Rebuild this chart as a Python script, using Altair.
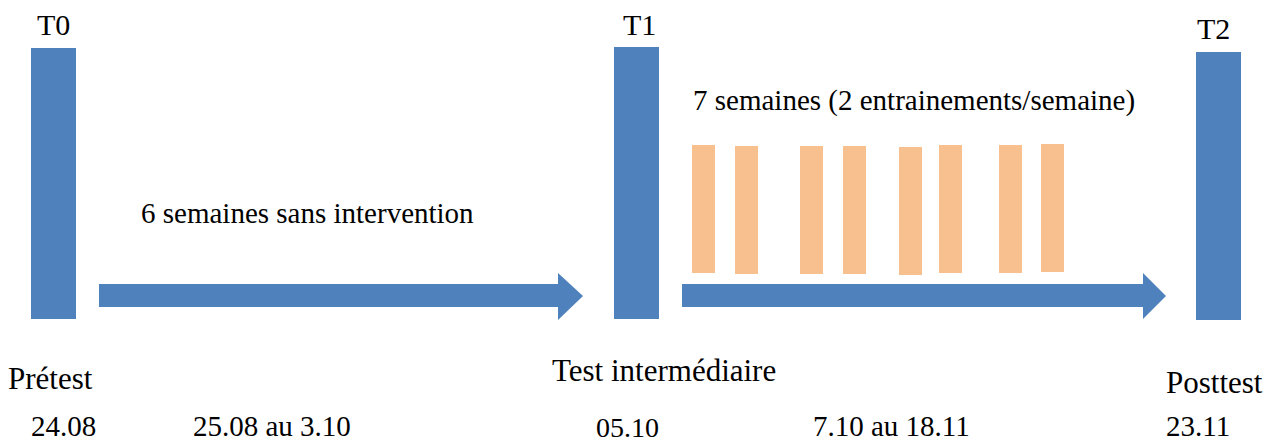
import altair as alt
import pandas as pd

# Layout of the study timeline (schematic units = page pixels)
W, H = 1263, 435
X0, Y0 = 8, 8

# Measurement points (blue bars)
test_names = ["T0", "T1", "T2"]
test_left = [31, 614, 1196]
test_right = [76, 659, 1241]
test_top = [48, 47, 52]
test_bottom = [319, 319, 320]

# Training sessions (orange bars): 7 weeks, 2 sessions/week shown as 8 bars
sess_left = [692, 735, 800, 843, 899, 939, 999, 1041]
sess_right = [715, 758, 823, 866, 922, 962, 1022, 1064]
sess_top = [145, 146, 146, 146, 147, 145, 145, 144]
sess_bottom = [273, 274, 274, 274, 275, 273, 273, 272]

# Arrows (periods)
arrow_id = ["A1", "A2"]
shaft_start = [99, 682]
shaft_end = [558, 1143]
shaft_top = [284, 284]
shaft_bottom = [307, 307]
head_top = [273, 273]
head_bottom = [320, 319]
head_tip = [583, 1166]
head_mid = [296, 296]

# Texts
label_text = ["T0", "T1", "T2",
              "7 semaines (2 entrainements/semaine)",
              "6 semaines sans intervention",
              "Prétest", "Test intermédiaire", "Posttest",
              "24.08", "25.08 au 3.10", "05.10", "7.10 au 18.11", "23.11"]
label_x = [37, 623, 1197, 693, 141, 8, 552, 1166, 31, 193, 596, 813, 1166]
label_y = [35, 35, 39, 110, 223, 389, 381, 393, 436, 436, 437, 436, 436]
label_size = [30, 30, 30, 29, 29, 31, 31, 31, 29, 29, 28, 29, 29]

BLUE = "#4F81BD"
ORANGE = "#F9C08F"
FONT = "Liberation Serif, Times New Roman, DejaVu Serif, serif"

xs = alt.Scale(domain=[X0, X0 + W], range=[0, W], nice=False, zero=False)
ys = alt.Scale(domain=[Y0, Y0 + H], range=[0, H], nice=False, zero=False)

tests = pd.DataFrame({"name": test_names, "x": test_left, "x2": test_right,
                      "y": test_top, "y2": test_bottom})
sessions = pd.DataFrame({"x": sess_left, "x2": sess_right,
                         "y": sess_top, "y2": sess_bottom})
shafts = pd.DataFrame({"id": arrow_id, "x": shaft_start, "x2": shaft_end,
                       "y": shaft_top, "y2": shaft_bottom})
heads = pd.DataFrame({
    "id": arrow_id + arrow_id,
    "x": shaft_end + head_tip,
    "y": head_top + head_mid,
    "y2": head_bottom + head_mid,
})
labels = pd.DataFrame({"text": label_text, "x": label_x, "y": label_y,
                       "size": label_size})

test_layer = alt.Chart(tests).mark_rect(color=BLUE).encode(
    x=alt.X("x:Q", scale=xs, axis=None), x2="x2:Q",
    y=alt.Y("y:Q", scale=ys, axis=None), y2="y2:Q")

sess_layer = alt.Chart(sessions).mark_rect(color=ORANGE).encode(
    x=alt.X("x:Q", scale=xs, axis=None), x2="x2:Q",
    y=alt.Y("y:Q", scale=ys, axis=None), y2="y2:Q")

shaft_layer = alt.Chart(shafts).mark_rect(color=BLUE).encode(
    x=alt.X("x:Q", scale=xs, axis=None), x2="x2:Q",
    y=alt.Y("y:Q", scale=ys, axis=None), y2="y2:Q")

head_layer = alt.Chart(heads).mark_area(color=BLUE, opacity=1, orient="vertical").encode(
    x=alt.X("x:Q", scale=xs, axis=None),
    y=alt.Y("y:Q", scale=ys, axis=None), y2="y2:Q",
    detail="id:N")

text_layer = alt.Chart(labels).mark_text(
    align="left", baseline="alphabetic", font=FONT, color="black"
).encode(
    x=alt.X("x:Q", scale=xs, axis=None),
    y=alt.Y("y:Q", scale=ys, axis=None),
    text="text:N",
    size=alt.Size("size:Q", scale=None, legend=None))

chart = alt.layer(test_layer, sess_layer, shaft_layer, head_layer, text_layer).properties(
    width=W, height=H, padding=0,
    autosize=alt.AutoSizeParams(type="none"),
).configure_view(stroke=None)

chart.save("out.html", embed_options={"renderer": "svg", "actions": False})
